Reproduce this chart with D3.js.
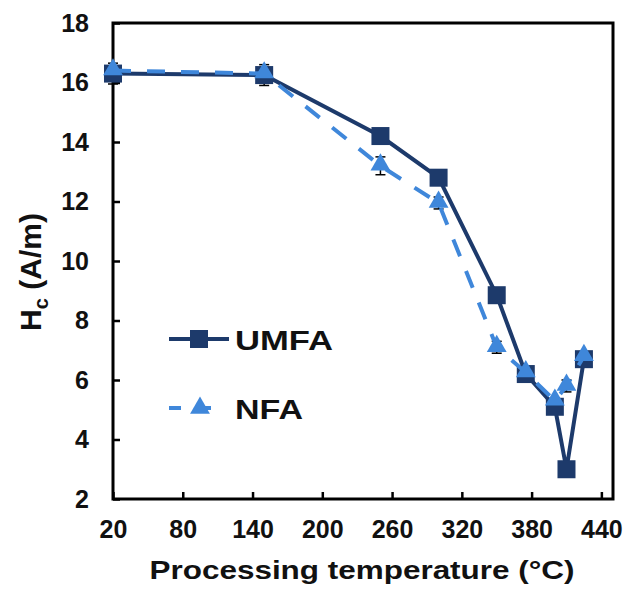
<!DOCTYPE html>
<html>
<head>
<meta charset="utf-8">
<script src="https://cdn.jsdelivr.net/npm/d3@7"></script>
<style>
  body { margin: 0; background: #fff; }
  svg { display: block; font-family: Arial, "Liberation Sans", sans-serif; }
</style>
</head>
<body>
<div id="chart"></div>
<script>
// 数据
let temps = [20, 150, 250, 300, 350, 375, 400, 410, 425]
let umfa = [16.3, 16.25, 14.2, 12.8, 8.85, 6.2, 5.1, 3.0, 6.7]
let umfaErr = [0.35, 0.35, 0.1, 0.1, 0.1, 0.1, 0.1, 0.1, 0.1]
let nfa = [16.4, 16.3, 13.2, 11.95, 7.1, 6.25, 5.3, 5.8, 6.8]
let nfaErr = [0.1, 0.1, 0.3, 0.2, 0.2, 0.1, 0.1, 0.2, 0.1]
let xTicks = [20, 80, 140, 200, 260, 320, 380, 440]
let yTicks = [2, 4, 6, 8, 10, 12, 14, 16, 18]

let width = 634, height = 590
let pLeft = 113, pTop = 23, pRight = 613, pBottom = 499

let svg = d3.select("#chart").append("svg")
    .attr("width", width)
    .attr("height", height)

let x = d3.scaleLinear().domain([20, 450]).range([pLeft, pRight])
let y = d3.scaleLinear().domain([2, 18]).range([pBottom, pTop])

let dark = "#1d3a6b", light = "#3f87da"

//坐标轴
let xAxis = svg.append("g")
    .attr("transform", `translate(0,${pBottom})`)
    .call(d3.axisBottom(x).tickValues(xTicks).tickSize(-7).tickPadding(21))
let yAxis = svg.append("g")
    .attr("transform", `translate(${pLeft},0)`)
    .call(d3.axisLeft(y).tickValues(yTicks).tickSize(-7).tickPadding(24))
;[xAxis, yAxis].forEach(g => {
    g.select(".domain").remove()
    g.selectAll("line").attr("stroke", "#000").attr("stroke-width", 2.5)
    g.selectAll("text").attr("font-size", 25).attr("font-weight", "bold").attr("fill", "#111")
        .attr("font-family", "Arial, 'Liberation Sans', sans-serif")
})
xAxis.selectAll("text").attr("dy", "0.71em")
//外框
svg.append("rect")
    .attr("x", pLeft).attr("y", pTop)
    .attr("width", pRight - pLeft).attr("height", pBottom - pTop)
    .attr("fill", "none").attr("stroke", "#000").attr("stroke-width", 3)

let line = d3.line().x(d => x(d[0])).y(d => y(d[1]))
let umfaPts = temps.map((t, i) => [t, umfa[i], umfaErr[i]])
let nfaPts = temps.map((t, i) => [t, nfa[i], nfaErr[i]])

function errBars(pts, color) {
    let g = svg.append("g").attr("stroke", color).attr("stroke-width", 1.5)
    pts.forEach(d => {
        g.append("line").attr("x1", x(d[0])).attr("x2", x(d[0]))
            .attr("y1", y(d[1] + d[2])).attr("y2", y(d[1] - d[2]))
        g.append("line").attr("x1", x(d[0]) - 5).attr("x2", x(d[0]) + 5)
            .attr("y1", y(d[1] + d[2])).attr("y2", y(d[1] + d[2]))
        g.append("line").attr("x1", x(d[0]) - 5).attr("x2", x(d[0]) + 5)
            .attr("y1", y(d[1] - d[2])).attr("y2", y(d[1] - d[2]))
    })
}

//UMFA
errBars(umfaPts, "#000")
svg.append("path").datum(umfaPts)
    .attr("d", line).attr("fill", "none")
    .attr("stroke", dark).attr("stroke-width", 4)
svg.append("g").selectAll("rect").data(umfaPts).enter().append("rect")
    .attr("x", d => x(d[0]) - 9).attr("y", d => y(d[1]) - 9)
    .attr("width", 18).attr("height", 18)
    .attr("fill", dark)

//NFA
errBars(nfaPts, "#000")
svg.append("path").datum(nfaPts)
    .attr("d", line).attr("fill", "none")
    .attr("stroke", light).attr("stroke-width", 4)
    .attr("stroke-dasharray", "18,16")
let tri = d3.symbol().type(d3.symbolTriangle).size(170)
svg.append("g").selectAll("path").data(nfaPts).enter().append("path")
    .attr("d", tri)
    .attr("transform", d => `translate(${x(d[0])},${y(d[1]) - 1})`)
    .attr("fill", light)

//图例
let legend = svg.append("g")
legend.append("line").attr("x1", 169).attr("x2", 229).attr("y1", 339).attr("y2", 339)
    .attr("stroke", dark).attr("stroke-width", 4)
legend.append("rect").attr("x", 190).attr("y", 330).attr("width", 18).attr("height", 18).attr("fill", dark)
legend.append("text").attr("x", 235).attr("y", 350).attr("textLength", 98).text("UMFA")
legend.append("line").attr("x1", 169).attr("x2", 223).attr("y1", 408).attr("y2", 408)
    .attr("stroke", light).attr("stroke-width", 4).attr("stroke-dasharray", "12,18")
legend.append("path").attr("d", tri).attr("transform", "translate(200,408)").attr("fill", light)
legend.append("text").attr("x", 235).attr("y", 419).attr("textLength", 68).text("NFA")
legend.selectAll("text").attr("font-size", 28).attr("font-weight", "bold").attr("fill", "#111")
    .attr("lengthAdjust", "spacingAndGlyphs")

//坐标轴标题
svg.append("text")
    .attr("x", 362).attr("y", 579)
    .attr("text-anchor", "middle")
    .attr("font-size", 26).attr("font-weight", "bold").attr("fill", "#111")
    .attr("textLength", 425).attr("lengthAdjust", "spacingAndGlyphs")
    .text("Processing temperature (°C)")
let yt = svg.append("text")
    .attr("transform", "translate(41,272) rotate(-90)")
    .attr("text-anchor", "middle")
    .attr("font-size", 30).attr("font-weight", "bold").attr("fill", "#111")
yt.append("tspan").text("H")
yt.append("tspan").attr("font-size", 20).attr("dy", 7).text("c")
yt.append("tspan").attr("dy", -7).text(" (A/m)")
</script>
</body>
</html>
